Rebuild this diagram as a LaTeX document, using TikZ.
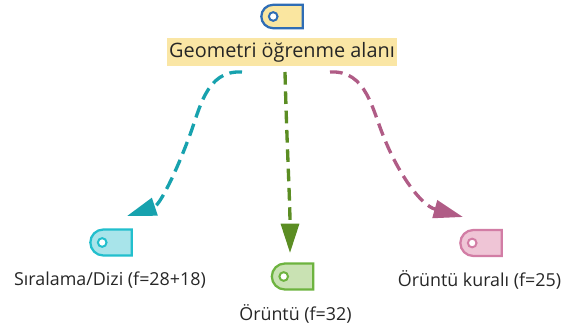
\documentclass[tikz,border=0pt]{standalone}
\usepackage{fontspec}
\setmainfont{Open Sans}
\usetikzlibrary{arrows.meta,shapes.misc,calc}
\definecolor{hl}{HTML}{FAE6A5}
\definecolor{tagYf}{HTML}{FAE6A0}
\definecolor{tagYd}{HTML}{2F6DB5}
\definecolor{tagCf}{HTML}{A8E4EA}
\definecolor{tagCd}{HTML}{22BFCD}
\definecolor{tagGf}{HTML}{C9E2B3}
\definecolor{tagGd}{HTML}{6DB33F}
\definecolor{tagPf}{HTML}{EFC5D6}
\definecolor{tagPd}{HTML}{D27DA5}
\definecolor{arC}{HTML}{17A2AE}
\definecolor{arG}{HTML}{5B8D23}
\definecolor{arP}{HTML}{B05C86}
\definecolor{txt}{HTML}{262626}
\begin{document}
\begin{tikzpicture}[x=0.75pt,y=-0.75pt,
  tagshape/.style={rounded rectangle, rounded rectangle right arc=none,
    minimum width=31pt, minimum height=19.5pt, line width=1.7pt, inner sep=0pt},
  hole/.style={circle, fill=white, minimum size=6.5pt, inner sep=0pt, line width=1.5pt},
  lbl/.style={text=txt, font=\fontsize{13.4pt}{15pt}\selectfont, inner sep=0pt},
  toplbl/.style={text=txt, fill=hl, font=\fontsize{14.9pt}{17pt}\selectfont,
    inner xsep=1.5pt, minimum height=21pt},
  conn/.style={line width=2.5pt, dash pattern=on 9.5pt off 5pt,
    -{Triangle[length=22pt,width=13.5pt]}}
]
\useasboundingbox (0,0) rectangle (561,331);

% top
\node[tagshape, fill=tagYf, draw=tagYd, minimum height=17.5pt] (t0) at (282,16.5) {};
\node[hole, draw=tagYd] (h0) at ($(t0.west)+(13,0)$) {};
\node[toplbl] (geo) at (282,52) {Geometri öğrenme alanı};

% left
\node[tagshape, fill=tagCf, draw=tagCd] (t1) at (111,242.5) {};
\node[hole, draw=tagCd] (h1) at ($(t1.west)+(13,0)$) {};
\node[lbl] (l1) at (110,280) {Sıralama/Dizi (f=28+18)};

% middle
\node[tagshape, fill=tagGf, draw=tagGd] (t2) at (292.5,276.5) {};
\node[hole, draw=tagGd] (h2) at ($(t2.west)+(13,0)$) {};
\node[lbl] (l2) at (295.5,314) {Örüntü (f=32)};

% right
\node[tagshape, fill=tagPf, draw=tagPd] (t3) at (481,243) {};
\node[hole, draw=tagPd] (h3) at ($(t3.west)+(13,0)$) {};
\node[lbl] (l3) at (479.5,280) {Örüntü kuralı (f=25)};

% connector ends
\coordinate (s1) at (242,72);
\coordinate (e1) at (127,216);
\coordinate (s2) at (285,72);
\coordinate (e2) at (290,253);
\coordinate (s3) at (330,72);
\coordinate (e3) at (463,217);

\draw[conn, arC] (s1) .. controls (205,70) and (200,110) .. (188,140)
  .. controls (176,172) and (160,205) .. (e1);
\draw[conn, arG] (s2) .. controls (287,150) and (290,200) .. (e2);
\draw[conn, arP] (s3) .. controls (367,70) and (372,110) .. (385,140)
  .. controls (398,172) and (420,205) .. (e3);
\end{tikzpicture}
\end{document}
